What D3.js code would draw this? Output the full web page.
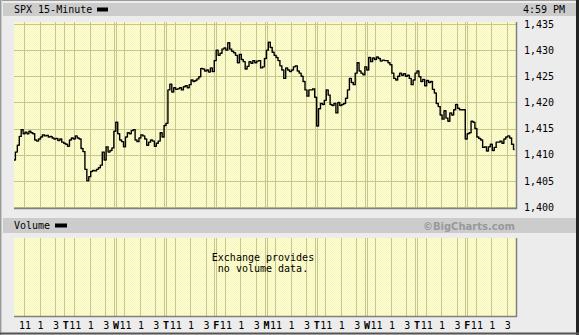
<!DOCTYPE html>
<html><head><meta charset="utf-8">
<script src="https://cdn.jsdelivr.net/npm/d3@7"></script>
<style>body{margin:0;background:#ececec}svg{display:block}</style>
</head><body><svg id="c" width="579" height="335"></svg>
<script>
// ---- data ----
const dayLetters = ["", "T", "W", "T", "F", "M", "T", "W", "T", "F"];
const hourLabels = ["11", "1", "3"];
const hourBarIndex = [6, 14, 22];          // 15-min bar index within a session (9:30 start)
const barsPerDay = 26;
const yTickValues = [1400, 1405, 1410, 1415, 1420, 1425, 1430, 1435];
const title = "SPX 15-Minute";
const timeLabel = "4:59 PM";
// closing values of each 15-minute bar, one row per session
const spxClose = [
  1409.0,1410.5,1411.8,1413.5,1414.8,1414.0,1414.3,1414.0,1414.5,1414.2,1414.0,1412.8,1412.6,1413.0,1413.4,1413.8,1413.6,1413.7,1413.4,1413.5,1413.2,1413.0,1413.1,1412.7,1413.0,1412.4,
  1412.2,1412.0,1411.6,1412.8,1413.2,1413.0,1413.6,1413.2,1413.0,1411.2,1410.6,1407.2,1405.0,1405.8,1406.8,1407.0,1406.9,1407.2,1407.5,1408.0,1410.5,1409.0,1411.5,1410.5,1410.8,1411.3,
  1414.5,1416.2,1414.0,1412.8,1412.5,1411.5,1413.4,1414.2,1414.0,1414.6,1414.8,1412.8,1412.5,1413.2,1413.8,1413.6,1413.0,1411.8,1412.4,1412.8,1412.6,1411.6,1412.2,1412.6,1414.2,1413.4,
  1415.6,1416.0,1422.4,1423.5,1422.0,1422.8,1422.5,1422.6,1422.8,1422.4,1423.0,1423.2,1422.8,1423.4,1424.3,1424.0,1424.2,1424.5,1424.9,1426.5,1426.4,1426.0,1426.2,1425.8,1426.6,1425.9,
  1428.0,1430.0,1429.0,1429.4,1430.2,1430.4,1430.0,1431.4,1430.2,1429.8,1429.5,1429.0,1427.6,1429.2,1428.2,1427.8,1426.4,1426.9,1427.8,1427.5,1428.0,1427.6,1427.9,1428.0,1426.6,1426.8,
  1428.4,1430.0,1431.5,1430.5,1429.6,1429.0,1428.6,1428.0,1427.0,1426.2,1424.6,1426.6,1426.2,1425.9,1426.2,1426.8,1427.0,1426.0,1425.6,1425.0,1424.0,1422.4,1421.2,1422.4,1422.4,1422.6,
  1421.0,1415.5,1418.8,1419.8,1419.6,1420.4,1422.4,1421.4,1419.6,1419.4,1419.8,1418.0,1420.0,1419.4,1419.6,1419.8,1420.8,1422.4,1424.6,1423.8,1423.4,1425.6,1427.6,1426.0,1425.6,1425.3,
  1426.8,1426.2,1428.6,1427.8,1428.5,1428.2,1428.7,1428.4,1427.9,1428.1,1428.0,1428.0,1427.6,1427.2,1425.6,1424.6,1424.3,1425.0,1425.6,1425.2,1425.5,1425.0,1425.2,1424.6,1423.4,1424.3,
  1425.6,1426.0,1424.9,1424.0,1424.4,1423.2,1424.2,1423.8,1424.0,1422.5,1421.8,1419.8,1419.2,1417.6,1416.8,1418.4,1417.0,1416.4,1418.0,1417.6,1418.6,1419.6,1418.9,1418.6,1418.6,1418.6,
  1413.0,1414.0,1414.2,1416.4,1416.2,1415.0,1413.4,1413.1,1412.8,1411.4,1411.5,1410.7,1411.5,1412.0,1410.8,1411.4,1412.4,1412.4,1412.6,1412.2,1413.0,1413.4,1413.6,1413.2,1412.0,1411.0
];

// ---- drawing ----
const svg = d3.select("#c");
const W = 579, H = 335;
const plot = {x0: 14, x1: 516, y0: 22, y1: 208};
const vol = {y0: 238, y1: 316};
const nBars = spxClose.length;
const x = d3.scaleLinear().domain([0, nBars]).range([12.5, 514.5]);
const y = d3.scaleLinear().domain([1400, 1435]).range([207, 24]);
const gridCol = "#c6c68e";
const mono = "'DejaVu Sans Mono', monospace";

const defs = svg.append("defs");
const pat = defs.append("pattern").attr("id", "dots").attr("width", 2).attr("height", 2)
  .attr("patternUnits", "userSpaceOnUse");
pat.append("rect").attr("width", 2).attr("height", 2).attr("fill", "#ffffcc");
pat.append("rect").attr("width", 1).attr("height", 1).attr("fill", "#f4f4c4");
pat.append("rect").attr("x", 1).attr("y", 1).attr("width", 1).attr("height", 1).attr("fill", "#f4f4c4");
defs.append("clipPath").attr("id", "clipP").append("rect")
  .attr("x", plot.x0).attr("y", plot.y0).attr("width", plot.x1 - plot.x0).attr("height", plot.y1 - plot.y0);

// background + frame
svg.append("rect").attr("width", W).attr("height", H).attr("fill", "#ececec");
svg.append("line").attr("x1", 0).attr("x2", W).attr("y1", 0.5).attr("y2", 0.5).attr("stroke", "#9a9a9a");
svg.append("line").attr("x1", 0.5).attr("x2", 0.5).attr("y1", 0).attr("y2", H).attr("stroke", "#9a9a9a");
svg.append("line").attr("x1", 1.5).attr("x2", 1.5).attr("y1", 0).attr("y2", H).attr("stroke", "#c8c8c8");
svg.append("line").attr("x1", 577.5).attr("x2", 577.5).attr("y1", 0).attr("y2", H).attr("stroke", "#222").attr("stroke-width", 3);
svg.append("line").attr("x1", 0).attr("x2", W).attr("y1", 333.5).attr("y2", 333.5).attr("stroke", "#555").attr("stroke-width", 2);

// header bars
svg.append("rect").attr("x", 3).attr("y", 3).attr("width", 573).attr("height", 13).attr("fill", "#cccccc");
svg.append("rect").attr("x", 3).attr("y", 218).attr("width", 573).attr("height", 15).attr("fill", "#cccccc");
svg.append("text").attr("x", 14).attr("y", 13).attr("font-family", mono).attr("font-size", 10).attr("fill", "#000").text(title);
svg.append("rect").attr("x", 97).attr("y", 7.5).attr("width", 11).attr("height", 4).attr("fill", "#000");
svg.append("text").attr("x", 523).attr("y", 13).attr("font-family", mono).attr("font-size", 10).attr("fill", "#000").text(timeLabel);
svg.append("text").attr("x", 14).attr("y", 229).attr("font-family", mono).attr("font-size", 10).attr("fill", "#000").text("Volume");
svg.append("rect").attr("x", 55).attr("y", 223.5).attr("width", 12).attr("height", 4).attr("fill", "#000");
svg.append("text").attr("x", 515).attr("y", 229.5).attr("text-anchor", "end")
  .attr("font-family", "'DejaVu Sans', Verdana, sans-serif").attr("font-weight", "bold")
  .attr("font-size", 10).attr("fill", "#999").text("\u00A9BigCharts.com");

// panels
function panel(y0, y1) {
  svg.append("rect").attr("x", plot.x0).attr("y", y0).attr("width", plot.x1 - plot.x0).attr("height", y1 - y0).attr("fill", "url(#dots)");
  const g = svg.append("g").attr("stroke", gridCol).attr("stroke-width", 1);
  for (let d = 0; d < dayLetters.length; d++) {
    hourBarIndex.forEach(h => {
      const xx = Math.round(x(d * barsPerDay + h)) + 0.5;
      g.append("line").attr("x1", xx).attr("x2", xx).attr("y1", y0).attr("y2", y1);
    });
    if (d > 0) {
      const xb = Math.round(x(d * barsPerDay)) + 0.5;
      const offs = d === 1 ? [1] : [1, 3];
      offs.forEach(o => g.append("line").attr("x1", xb + o).attr("x2", xb + o).attr("y1", y0).attr("y2", y1));
    }
  }
  return g;
}
const gMain = panel(plot.y0, plot.y1);
yTickValues.forEach(v => {
  const yy = Math.round(y(v)) + 0.5;
  if (yy > plot.y0 && yy < plot.y1) gMain.append("line").attr("x1", plot.x0).attr("x2", plot.x1).attr("y1", yy).attr("y2", yy);
});
panel(vol.y0, vol.y1);

// borders (shadow right/bottom)
[[plot.y0, plot.y1], [vol.y0, vol.y1]].forEach(([a, b]) => {
  svg.append("line").attr("x1", plot.x1 + 0.5).attr("x2", plot.x1 + 0.5).attr("y1", a).attr("y2", b + 1).attr("stroke", "#808080").attr("stroke-width", 1.5);
  svg.append("line").attr("x1", plot.x0).attr("x2", plot.x1 + 1).attr("y1", b + 0.5).attr("y2", b + 0.5).attr("stroke", "#808080").attr("stroke-width", 1.5);
});

// y axis
const yAxis = d3.axisRight(y).tickValues(yTickValues).tickSize(0).tickPadding(0).tickFormat(d3.format(","));
const ga = svg.append("g").attr("transform", "translate(524,0)").call(yAxis);
ga.select(".domain").remove();
ga.selectAll("text").attr("font-family", mono).attr("font-size", 10).attr("fill", "#000");

// price bars (OHLC, open = prior close)
const bars = svg.append("g").attr("clip-path", "url(#clipP)");
let p = "";
spxClose.forEach((c, i) => {
  const o = i > 0 ? spxClose[i - 1] : c;
  const xc = x(i + 0.5);
  const yo = y(o), yc = y(c);
  const top = Math.min(yo, yc), bot = Math.max(yo, yc);
  p += `M${xc},${top - 0.5}V${bot + 0.5}M${xc - 1},${yo}H${xc}M${xc},${yc}H${xc + 1}`;
});
bars.append("path").attr("d", p).attr("fill", "none").attr("stroke", "#000").attr("stroke-width", 1.4);

// volume note
svg.append("text").attr("x", 263).attr("y", 261).attr("text-anchor", "middle").attr("font-family", mono).attr("font-size", 10).text("Exchange provides");
svg.append("text").attr("x", 263).attr("y", 272).attr("text-anchor", "middle").attr("font-family", mono).attr("font-size", 10).text("no volume data.");

// x labels
const gx = svg.append("g").attr("font-family", mono).attr("font-size", 10).attr("fill", "#000");
dayLetters.forEach((L, d) => {
  if (L) gx.append("text").attr("x", x(d * barsPerDay) + 3).attr("y", 329).attr("text-anchor", "middle").attr("font-weight", "bold").text(L);
  hourLabels.forEach((h, k) => {
    gx.append("text").attr("x", x(d * barsPerDay + hourBarIndex[k]) + 1).attr("y", 329).attr("text-anchor", "middle").text(h);
  });
});
</script></body></html>
